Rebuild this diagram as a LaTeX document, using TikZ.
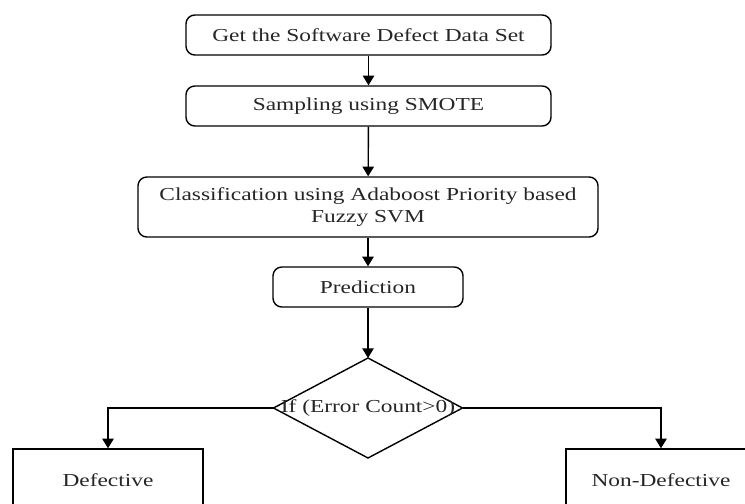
\documentclass[tikz,border=0pt]{standalone}
\usepackage{fontspec}
\setmainfont{Liberation Serif}[FakeStretch=1.28]
\usetikzlibrary{arrows.meta,shapes.geometric,positioning}
\tikzset{every picture/.style={line width=0.8pt}}
\tikzset{
  procbox/.style={draw, rounded corners=5pt, minimum width=7.3cm, minimum height=0.8cm, align=center, inner sep=2pt, text=black!85},
  decision/.style={draw, diamond, minimum width=3.78cm, minimum height=2cm, inner sep=0pt, outer sep=0pt},
  outbox/.style={draw, minimum width=3.8cm, minimum height=1.24cm, inner sep=2pt, text=black!85},
  flow/.style={-{Triangle[width=6.5pt,length=5.5pt]}}
}

\begin{document}
\begin{tikzpicture}[font=\fontsize{10.4}{10.6}\selectfont]
    % 画布
    \clip (0,0) rectangle (14.9,10.06);

    % 流程框
    \node[procbox] (data) at (7.37,9.36) {Get the Software Defect Data Set};
    \node[procbox] (smote) at (7.37,7.94) {Sampling using SMOTE};
    \node[procbox, minimum width=9.2cm, minimum height=1.2cm,
          font=\fontsize{10.4}{10.4}\selectfont] (clf) at (7.36,5.92)
        {Classification using Adaboost Priority based\\[1.6pt]Fuzzy SVM};
    \node[procbox, minimum width=3.8cm] (pred) at (7.36,4.32) {Prediction};

    % 判断
    \node[decision, label={[text=black!85]center:If (Error Count>0)}] (dec) at (7.36,1.90) {};

    % 结果
    \node[outbox] (def) at (2.16,0.46) {Defective};
    \node[outbox] (nondef) at (13.22,0.46) {Non-Defective};

    % 连线
    \draw[flow] (data) -- (smote);
    \draw[flow] (smote) -- (clf);
    \draw[flow] (clf) -- (pred);
    \draw[flow] (pred) -- (dec);
    \draw[flow] (dec.west) -| (def.north);
    \draw[flow] (dec.east) -| (nondef.north);
\end{tikzpicture}
\end{document}
